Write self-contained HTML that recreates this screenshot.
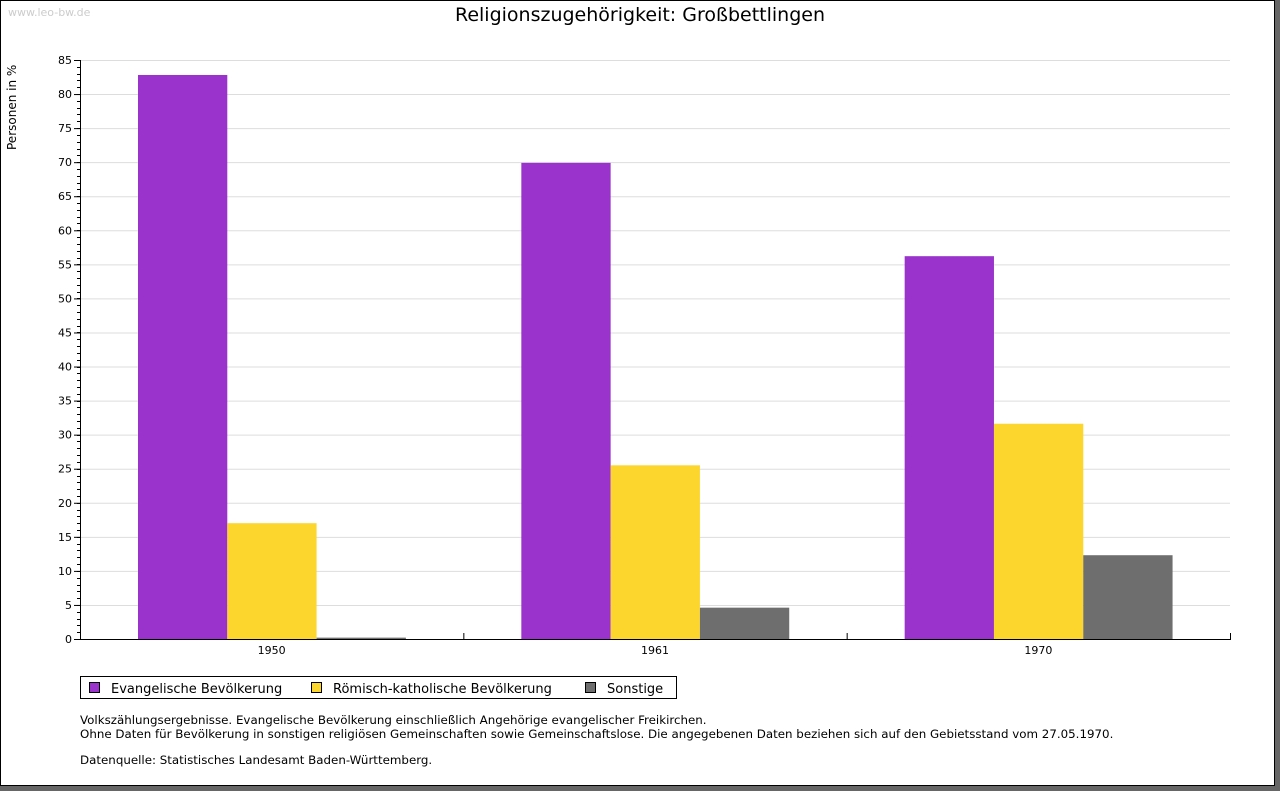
<!DOCTYPE html>
<html><head><meta charset="utf-8"><style>
html,body{margin:0;padding:0;background:#666;}
svg{display:block;font-family:"DejaVu Sans","Liberation Sans",sans-serif;}
</style></head><body>
<svg id="c" width="1280" height="791" xmlns="http://www.w3.org/2000/svg">
<rect x="0" y="0" width="1280" height="791" fill="#666"/>
<rect x="0.5" y="0.5" width="1274" height="785" fill="#fff" stroke="#000"/>
<text x="8" y="16" font-size="11" fill="#ccc">www.leo-bw.de</text>
<text x="640" y="21" font-size="19" text-anchor="middle" fill="#000">Religionszugehörigkeit: Großbettlingen</text>
<text transform="translate(16,150) rotate(-90)" font-size="12">Personen in %</text>
<g id="grid"></g><g id="bars"></g><g id="axes"></g>
<g>
<rect x="80.5" y="676.5" width="596" height="22" fill="#fff" stroke="#000"/>
<g><rect x="89.5" y="682.5" width="10" height="10" fill="#9933cc" stroke="#000"/><text x="111" y="693" font-size="13">Evangelische Bevölkerung</text></g>
<g><rect x="311.5" y="682.5" width="10" height="10" fill="#fcd62d" stroke="#000"/><text x="333" y="693" font-size="13">Römisch-katholische Bevölkerung</text></g>
<g><rect x="585.5" y="682.5" width="10" height="10" fill="#6e6e6e" stroke="#000"/><text x="607" y="693" font-size="13">Sonstige</text></g>
</g>
<g font-size="11.85">
<text x="80" y="724">Volkszählungsergebnisse. Evangelische Bevölkerung einschließlich Angehörige evangelischer Freikirchen.</text>
<text x="80" y="738">Ohne Daten für Bevölkerung in sonstigen religiösen Gemeinschaften sowie Gemeinschaftslose. Die angegebenen Daten beziehen sich auf den Gebietsstand vom 27.05.1970.</text>
<text x="80" y="764">Datenquelle: Statistisches Landesamt Baden-Württemberg.</text>
</g>
</svg>
<script>
const categories=["1950","1961","1970"];
const evangelisch=[82.8,69.9,56.2];
const katholisch=[17.0,25.5,31.6];
const sonstige=[0.2,4.6,12.3];
const yTicks=[0,5,10,15,20,25,30,35,40,45,50,55,60,65,70,75,80,85];
const NS="http://www.w3.org/2000/svg";
const L=80,R=1230,T=60,B=639,YMAX=85;
const y=v=>B-(v/YMAX)*(B-T);
const gw=(R-L)/categories.length;
const x=i=>L+i*gw;
function mk(tag,attrs,parent){const e=document.createElementNS(NS,tag);for(const k in attrs)e.setAttribute(k,attrs[k]);parent.appendChild(e);return e;}
const grid=document.getElementById('grid'),bars=document.getElementById('bars'),axes=document.getElementById('axes');
yTicks.forEach(t=>{
 const gl=mk('line',{x1:L,x2:R,y1:y(t)+0.5,y2:y(t)+0.5,stroke:'#ddd'},grid);
 
 
 const tl=mk('text',{x:L-8,y:y(t)+4,'font-size':11,'text-anchor':'end'},axes);
 tl.textContent=t;
 
 
 mk('line',{x1:L-6,x2:L,y1:y(t)+0.5,y2:y(t)+0.5,stroke:'#000'},axes);
});
for(let v=0;v<YMAX;v++){mk('line',{x1:L-3,x2:L,y1:Math.round(y(v))+0.5,y2:Math.round(y(v))+0.5,stroke:'#000'},axes);}
const series=[[evangelisch,'#9933cc','evangelisch'],[katholisch,'#fcd62d','katholisch'],[sonstige,'#6e6e6e','sonstige']];
const bw=89.3,off=58;
categories.forEach((c,i)=>{
 series.forEach((s,j)=>{
  const v=s[0][i];
  const r=mk('rect',{x:x(i)+off+j*bw,y:y(v),width:bw,height:B-y(v),fill:s[1]},bars);
  
  
 });
 const lb=mk('text',{x:x(i)+gw/2,y:B+15,'font-size':11,'text-anchor':'middle'},axes);
 lb.textContent=c;
 
 
 mk('line',{x1:x(i+1)+0.5,x2:x(i+1)+0.5,y1:B-6,y2:B,stroke:'#000'},axes);
});
const ya=mk('line',{x1:L+0.5,x2:L+0.5,y1:T,y2:B+1,stroke:'#000'},axes);


const xa=mk('line',{x1:L,x2:R+1,y1:B+0.5,y2:B+0.5,stroke:'#000'},axes);


</script>
</body></html>
